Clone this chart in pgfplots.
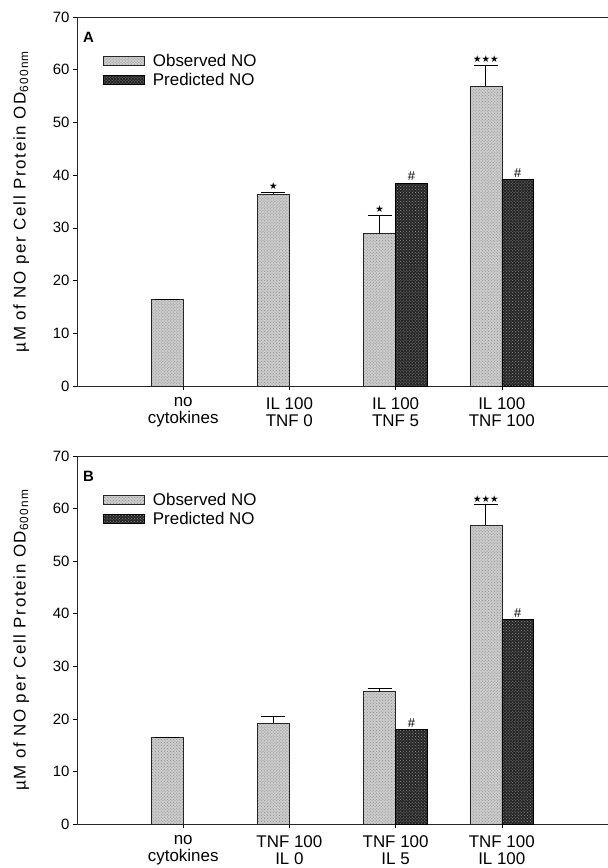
\documentclass[border=0pt]{standalone}
\usepackage{fontspec}
\setmainfont{Liberation Sans}
\newfontfamily\symfont{DejaVu Sans}
\usepackage{pgfplots}
\pgfplotsset{compat=1.18}
\usepackage{pgfplotstable}
\usetikzlibrary{patterns}

% Panel A: IL 100 with increasing TNF
\pgfplotstableread{
x obs err
1 16.5 0.0
2 36.4 0.4
3 28.9 3.5
4 56.9 4.0
}\obsA
\pgfplotstableread{
x pred
3 38.5
4 39.2
}\predA

% Panel B: TNF 100 with increasing IL
\pgfplotstableread{
x obs err
1 16.5 0.0
2 19.2 1.3
3 25.2 0.6
4 56.8 4.0
}\obsB
\pgfplotstableread{
x pred
3 18.0
4 38.9
}\predB

\tikzset{
  sig/.style={font=\symfont\fontsize{9.5}{9.5}\selectfont, anchor=south, inner sep=2bp},
  hash/.style={font=\fontsize{13}{13}\selectfont, anchor=south, inner sep=2bp},
}

\pgfplotsset{
  nopanel/.style={
    scale only axis, width=531bp,
    xmin=0, xmax=5, ymin=0, ymax=70,
    axis x line=box, axis y line=left,
    axis line style={-, line width=0.7bp, black!85},
    xtick={1,2,3,4}, xtick pos=bottom,
    ytick={0,10,...,70},
    tick align=outside, major tick length=4bp,
    tick style={black, line width=0.6bp},
    /pgf/number format/assume math mode=true,
    yticklabel style={font=\fontsize{15}{17}\selectfont},
    xticklabel style={font=\fontsize{17}{17}\selectfont, align=center, yshift=-4bp},
    ylabel={{\addfontfeature{LetterSpace=10}µM of NO per Cell Protein OD\textsubscript{600nm}}},
    ylabel style={font=\fontsize{17}{19}\selectfont, at={(axis description cs:-0.105,0.5)}, anchor=center},
    legend style={at={(0.0494,0.905)}, anchor=north west, draw=none, fill=none,
      font=\fontsize{17}{19}\selectfont, row sep=1bp, inner sep=0pt,
      nodes={inner sep=2bp}, cells={anchor=west}},
    legend image code/.code={\draw[#1,/tikz/.cd,line width=0.5bp] (0bp,-4.5bp) rectangle (41bp,4.5bp);},
    legend cell align=left,
    clip=false,
  },
  % bars sit left (observed) and right (predicted) of each group centre
  obsbar/.style={ybar, bar width=0.3, bar shift=0,
    draw=black!85, line width=0.5bp, fill=black!20,
    postaction={pattern=crosshatch dots, pattern color=black!45},
    error bars/.cd, y dir=plus, y explicit,
    error bar style={black, line width=0.8bp},
    error mark options={rotate=90, mark size=12bp, line width=0.8bp, black}},
  predbar/.style={ybar, bar width=0.3, bar shift=0,
    draw=black, line width=0.5bp, fill=black!85,
    postaction={pattern=crosshatch dots, pattern color=black!45}},
}

\begin{document}
\begin{tikzpicture}
\useasboundingbox (0bp,0bp) rectangle (608bp,868bp);

% ---- Panel A ----
\begin{axis}[nopanel, at={(77bp,482bp)}, anchor=south west, height=369bp,
  xticklabels={no\\cytokines, IL 100\\TNF 0, IL 100\\TNF 5, IL 100\\TNF 100}]
  \addplot[obsbar] table[x expr=\thisrow{x}-0.15, y=obs, y error=err] {\obsA};
  \addplot[predbar] table[x expr=\thisrow{x}+0.15, y=pred] {\predA};
  \legend{\hspace{6bp}Observed NO, \hspace{6bp}Predicted NO}
  \node[font=\bfseries\fontsize{15}{15}\selectfont, anchor=north west, inner sep=0pt]
    at (axis description cs:0.011,0.96) {A};
  \node[sig] at (axis cs:1.85,36.8) {★};
  \node[sig] at (axis cs:2.85,32.4) {★};
  \node[hash] at (axis cs:3.15,38.5) {\#};
  \node[sig] at (axis cs:3.85,60.9) {★★★};
  \node[hash] at (axis cs:4.15,39.2) {\#};
\end{axis}

% ---- Panel B ----
\begin{axis}[nopanel, at={(77bp,44bp)}, anchor=south west, height=368bp,
  xticklabels={no\\cytokines, TNF 100\\IL 0, TNF 100\\IL 5, TNF 100\\IL 100}]
  \addplot[obsbar] table[x expr=\thisrow{x}-0.15, y=obs, y error=err] {\obsB};
  \addplot[predbar] table[x expr=\thisrow{x}+0.15, y=pred] {\predB};
  \legend{\hspace{6bp}Observed NO, \hspace{6bp}Predicted NO}
  \node[font=\bfseries\fontsize{15}{15}\selectfont, anchor=north west, inner sep=0pt]
    at (axis description cs:0.011,0.96) {B};
  \node[hash] at (axis cs:3.15,18.0) {\#};
  \node[sig] at (axis cs:3.85,60.8) {★★★};
  \node[hash] at (axis cs:4.15,38.9) {\#};
\end{axis}
\end{tikzpicture}
\end{document}
